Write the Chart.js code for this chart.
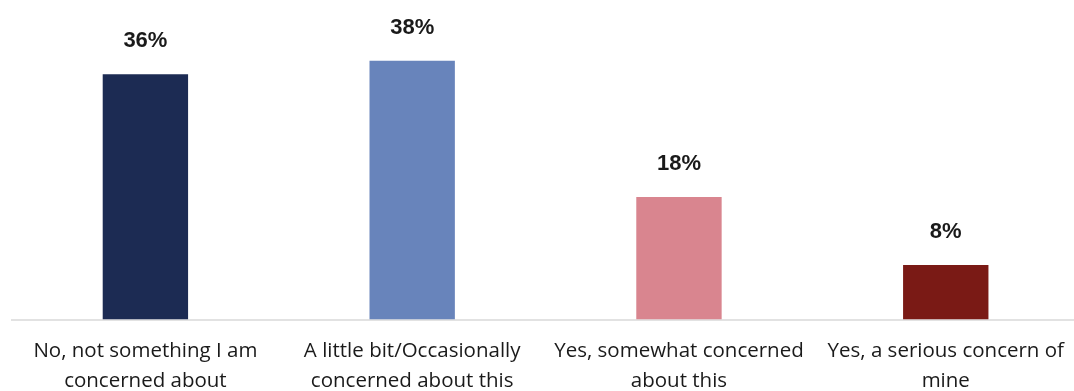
<!DOCTYPE html>
<html>
<head>
<meta charset="utf-8">
<script src="https://cdn.jsdelivr.net/npm/chart.js@4.4.1/dist/chart.umd.min.js"></script>
<style>
  html, body { margin: 0; padding: 0; background: #fff; overflow: hidden; }
  canvas { display: block; }
</style>
</head>
<body>
<canvas id="chart-canvas" width="1081" height="413"></canvas>
<script>
// answers to "are you concerned?" and the share for each one
const answers = [
    ["No, not something I am", "concerned about"],
    ["A little bit/Occasionally", "concerned about this"],
    ["Yes, somewhat concerned", "about this"],
    ["Yes, a serious concern of", "mine"]
];
const shares = [36, 38, 18, 8];
const barColors = ["#1c2b53", "#6884bb", "#d9858f", "#7a1a15"];

// write the percentage above every bar
const valueLabels = {
    id: "valueLabels",
    afterDatasetsDraw(chart) {
        const ctx = chart.ctx;
        const meta = chart.getDatasetMeta(0);
        ctx.save();
        ctx.font = "bold 22px 'Liberation Sans', Arial, sans-serif";
        ctx.fillStyle = "#1a1a1a";
        ctx.textAlign = "center";
        ctx.textBaseline = "middle";
        meta.data.forEach(function(bar, i){
            ctx.fillText(shares[i] + "%", bar.x, bar.y - 33);
        });
        ctx.restore();
    }
};

new Chart("chart-canvas", {
    type: "bar",
    data: {
        labels: answers,
        datasets: [{
            data: shares,
            backgroundColor: barColors,
            barPercentage: 0.32,
            categoryPercentage: 1
        }]
    },
    options: {
        responsive: false,
        animation: false,
        layout: { padding: { top: 47, left: 12, right: 0, bottom: 0 } },
        plugins: {
            legend: { display: false },
            tooltip: { enabled: false }
        },
        scales: {
            x: {
                grid: { display: false, drawTicks: false },
                border: { display: true, color: "#e2e2e2", width: 2 },
                ticks: {
                    color: "#1a1a1a",
                    font: { family: "'Open Sans', sans-serif", size: 20.5, lineHeight: 1.45 },
                    padding: 17,
                    maxRotation: 0,
                    autoSkip: false
                }
            },
            y: {
                display: false,
                min: 0,
                max: 40
            }
        }
    },
    plugins: [valueLabels]
});
</script>
</body>
</html>
